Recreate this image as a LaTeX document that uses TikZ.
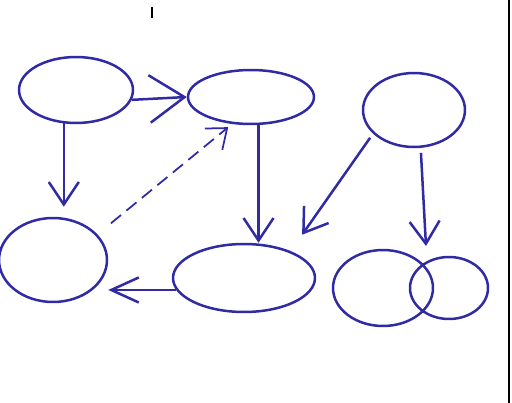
\documentclass[tikz,border=0pt]{standalone}
\usepackage{tikz}
\usetikzlibrary{shapes.geometric, arrows.meta}
\definecolor{ink}{RGB}{48,42,165}
\tikzstyle{blob} = [ellipse, draw=ink, line width=0.5mm, inner sep=0pt]
\tikzstyle{arrow} = [draw=ink, line width=0.5mm, -{Straight Barb[length=4.5mm,width=6mm]}]
\tikzstyle{bigarrow} = [draw=ink, line width=0.5mm, -{Straight Barb[length=7mm,width=9.5mm]}]
\tikzstyle{hint} = [draw=ink, line width=0.35mm, dash pattern=on 2.6mm off 1.4mm, -{Straight Barb[length=3.5mm,width=5.5mm]}]

\begin{document}
\begin{tikzpicture}[x=0.02cm, y=-0.02cm]
\useasboundingbox (0,0) rectangle (512,403);

\node [blob, minimum width=2.28cm, minimum height=1.32cm] (n1) at (76,90) {};
\node [blob, minimum width=2.52cm, minimum height=1.08cm] (n2) at (251,97) {};
\node [blob, minimum width=2.04cm, minimum height=1.48cm] (n3) at (414,110) {};
\node [blob, minimum width=2.16cm, minimum height=1.68cm] (n4) at (53,260) {};
\node [blob, minimum width=2.84cm, minimum height=1.36cm] (n5) at (244,278) {};
\node [blob, minimum width=2.0cm, minimum height=1.52cm] (n6a) at (383,288) {};
\node [blob, minimum width=1.56cm, minimum height=1.24cm] (n6b) at (449,288) {};
\coordinate (meet) at (426,246);

\draw [bigarrow] (n1.-10) -- (n2.west);
\draw [arrow, shorten >=2mm] (n1.-110) -- (n1.-110 |- n4.north);
\draw [arrow] (n2.-75) -- (n2.-75 |- n5.north);
\draw [hint, shorten <=3.5mm, shorten >=1mm] (n4.30) -- (n2.-125);
\draw [arrow, shorten <=1mm, shorten >=4mm] (n3.-150) -- (n5.30);
\draw [arrow, shorten <=1mm] (n3.-80) -- (meet);
\draw [arrow, -{Straight Barb[length=5.5mm,width=5mm]}] (n5.190) -- (n5.190 -| n4.east);

% scan marks
\draw [line width=0.3mm] (509,0) -- (509,403);
\draw [line width=0.3mm] (152,7) -- (152,18);

\end{tikzpicture}
\end{document}
